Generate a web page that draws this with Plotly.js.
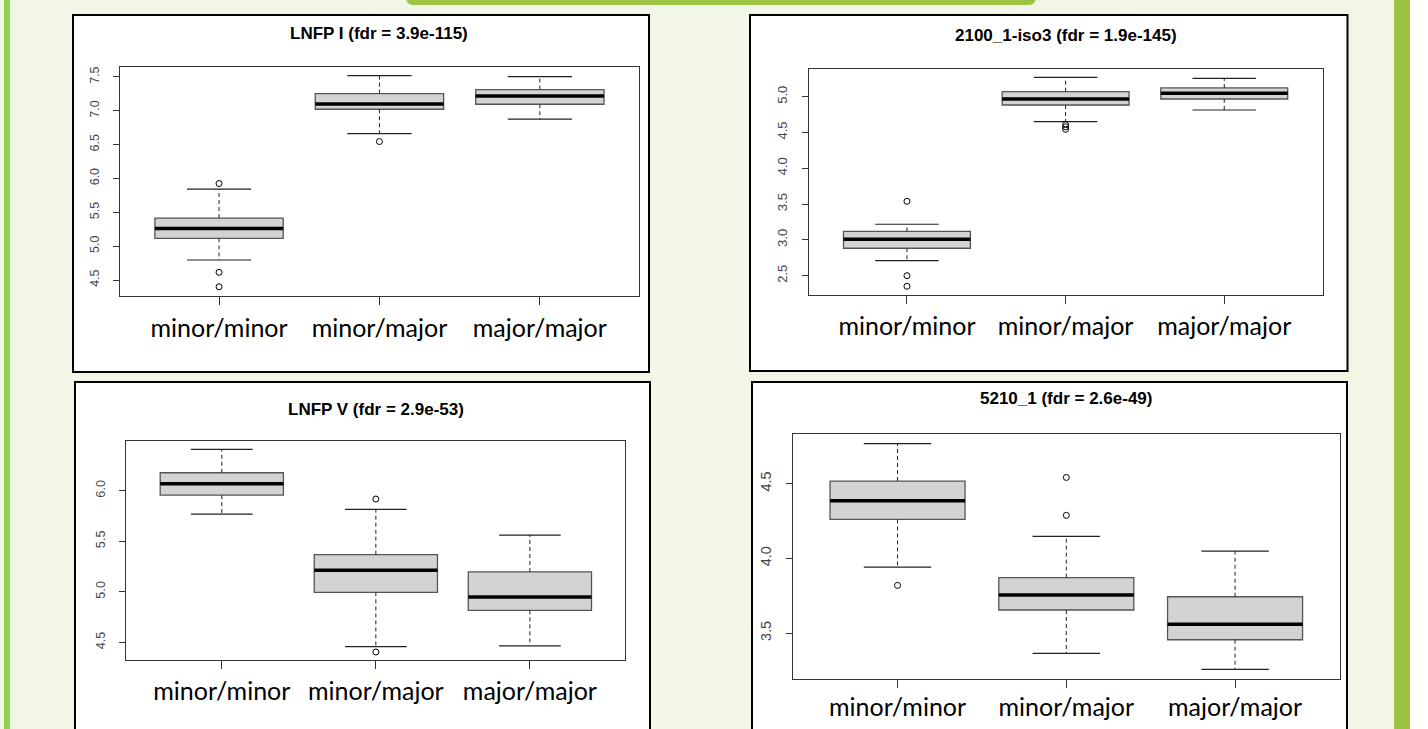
<!DOCTYPE html>
<html>
<head>
<meta charset="utf-8">
<script src="https://cdn.plot.ly/plotly-3.0.1.min.js"></script>
<style>
html,body{margin:0;padding:0;background:#f2f6e7;}
#chart{width:1428px;height:729px;}
</style>
</head>
<body>
<div id="chart"></div>
<script>
// ---------------- DATA ----------------
const categories = ['minor/minor', 'minor/major', 'major/major'];
const panelTitles = ['LNFP I (fdr = 3.9e-115)', '2100_1-iso3 (fdr = 1.9e-145)',
                     'LNFP V (fdr = 2.9e-53)', '5210_1 (fdr = 2.6e-49)'];
// per panel, per category
const q1Values     = [[5.115, 7.023, 7.097], [2.883, 4.884, 4.968], [5.957, 4.994, 4.816], [4.261, 3.654, 3.455]];
const medianValues = [[5.263, 7.102, 7.220], [3.008, 4.968, 5.047], [6.069, 5.212, 4.948], [4.386, 3.754, 3.558]];
const q3Values     = [[5.416, 7.254, 7.313], [3.120, 5.070, 5.122], [6.178, 5.367, 5.196], [4.518, 3.871, 3.743]];
const lowerWhisker = [[4.796, 6.664, 6.876], [2.710, 4.651, 4.814], [5.769, 4.457, 4.464], [3.942, 3.364, 3.257]];
const upperWhisker = [[5.843, 7.520, 7.505], [3.218, 5.271, 5.257], [6.409, 5.815, 5.561], [4.768, 4.147, 4.049]];
// outliers: category index (1-based) and value
const outlierCat   = [[1, 1, 1, 2], [1, 1, 1, 2, 2, 2], [2, 2], [1, 2, 2]];
const outlierVal   = [[5.926, 4.614, 4.400, 6.546], [3.539, 2.500, 2.352, 4.610, 4.580, 4.545], [5.918, 4.404], [3.819, 4.542, 4.288]];
const yRanges      = [[4.264, 7.652], [2.230, 5.391], [4.322, 6.495], [3.192, 4.831]];

// ---------------- LAYOUT GEOMETRY (pixels) ----------------
const W = 1428, H = 729;
const px = x => x / W;
const py = y => 1 - y / H;
const plotAreas = [ // [left, top, right, bottom]
  [119.6, 66.7, 639.3, 296.0],
  [808.6, 68.7, 1322.6, 295.0],
  [126.3, 440.7, 625.4, 660.3],
  [792.9, 434.3, 1339.7, 679.0]
];
const panelRects = [
  [73, 15, 649, 372],
  [750, 15, 1347.5, 371],
  [75, 382, 650, 760],
  [752, 382, 1347, 760]
];
const titleY = [33.5, 35, 409, 398.5];
const yTickSize = [12.5, 13, 12.7, 14.4];
const xLabelStandoff = [2, 1, 1, -2];

const BOXW = 0.8, CAPW = 0.4;
const traces = [];
const layout = {
  width: W, height: H,
  margin: {l: 0, r: 0, t: 0, b: 0},
  paper_bgcolor: '#f2f6e7',
  plot_bgcolor: '#ffffff',
  showlegend: false,
  shapes: [],
  annotations: []
};

// decorative background shapes
layout.shapes.push({type: 'rect', xref: 'paper', yref: 'paper', x0: px(4), x1: px(10), y0: py(H + 5), y1: py(-5),
  fillcolor: '#92d050', line: {width: 0}, layer: 'below'});
layout.shapes.push({type: 'rect', xref: 'paper', yref: 'paper', x0: px(1394), x1: px(1410), y0: py(H + 5), y1: py(-5),
  fillcolor: '#9cc343', line: {width: 0}, layer: 'below'});
layout.shapes.push({type: 'rect', xref: 'paper', yref: 'paper', x0: px(1410), x1: px(1430), y0: py(H + 5), y1: py(-5),
  fillcolor: '#ffffff', line: {width: 0}, layer: 'below'});
{
  const r = 8, x0 = 406, x1 = 1036, yb = 5;
  const path = `M ${px(x0)},${py(-2)} L ${px(x0)},${py(yb - r)} Q ${px(x0)},${py(yb)} ${px(x0 + r)},${py(yb)} ` +
               `L ${px(x1 - r)},${py(yb)} Q ${px(x1)},${py(yb)} ${px(x1)},${py(yb - r)} L ${px(x1)},${py(-2)} Z`;
  layout.shapes.push({type: 'path', xref: 'paper', yref: 'paper', path: path,
    fillcolor: '#9cc343', line: {width: 0}, layer: 'below'});
}

for (let p = 0; p < 4; p++) {
  const sfx = p === 0 ? '' : String(p + 1);
  const xa = 'x' + sfx, ya = 'y' + sfx;
  const [l, t, r, b] = plotAreas[p];
  const [bl, bt, br, bb] = panelRects[p];

  layout.shapes.push({type: 'rect', xref: 'paper', yref: 'paper',
    x0: px(bl), x1: px(br), y0: py(bb), y1: py(bt),
    fillcolor: '#ffffff', line: {color: '#000000', width: 2}, layer: 'below'});

  layout['xaxis' + sfx] = {
    domain: [px(l), px(r)], anchor: ya, range: [0.38, 3.62],
    tickmode: 'array', tickvals: [1, 2, 3], ticktext: categories,
    ticks: 'outside', ticklen: 8, tickcolor: '#333', tickwidth: 1,
    tickfont: {family: 'Lato, "Open Sans", sans-serif', size: 25, color: '#000'},
    ticklabelstandoff: xLabelStandoff[p],
    showline: true, mirror: true, linecolor: '#333', linewidth: 1,
    showgrid: false, zeroline: false, fixedrange: true
  };
  layout['yaxis' + sfx] = {
    domain: [py(b), py(t)], anchor: xa, range: yRanges[p],
    tick0: 0, dtick: 0.5, tickformat: '.1f', tickangle: -90,
    ticks: 'outside', ticklen: 6, tickcolor: '#333', tickwidth: 1,
    tickfont: {family: '"Liberation Sans", Arial, sans-serif', size: yTickSize[p], color: '#444'},
    ticklabelstandoff: 9,
    showline: true, mirror: true, linecolor: '#333', linewidth: 1,
    showgrid: false, zeroline: false, fixedrange: true
  };

  layout.annotations.push({xref: 'paper', yref: 'paper', x: px((l + r) / 2), y: py(titleY[p]),
    xanchor: 'center', yanchor: 'middle', showarrow: false,
    text: '<b>' + panelTitles[p] + '</b>',
    font: {family: '"Liberation Sans", Arial, sans-serif', size: 17, color: '#000'}});

  const xs = [1, 2, 3];
  // boxes
  traces.push({type: 'box', xaxis: xa, yaxis: ya, x: xs,
    q1: q1Values[p], median: medianValues[p], q3: q3Values[p],
    lowerfence: q1Values[p], upperfence: q3Values[p],
    width: BOXW, whiskerwidth: 0, boxpoints: false,
    fillcolor: '#d3d3d3', line: {color: '#555555', width: 1.3}, hoverinfo: 'skip'});

  // whiskers (dashed)
  const wx = [], wy = [];
  xs.forEach((c, i) => {
    wx.push(c, c, null, c, c, null);
    wy.push(q3Values[p][i], upperWhisker[p][i], null, q1Values[p][i], lowerWhisker[p][i], null);
  });
  traces.push({type: 'scatter', mode: 'lines', xaxis: xa, yaxis: ya, x: wx, y: wy,
    line: {color: '#222', width: 1, dash: '4px,3px'}, hoverinfo: 'skip'});

  // caps
  const cx = [], cy = [];
  xs.forEach((c, i) => {
    cx.push(c - CAPW / 2, c + CAPW / 2, null, c - CAPW / 2, c + CAPW / 2, null);
    cy.push(upperWhisker[p][i], upperWhisker[p][i], null, lowerWhisker[p][i], lowerWhisker[p][i], null);
  });
  traces.push({type: 'scatter', mode: 'lines', xaxis: xa, yaxis: ya, x: cx, y: cy,
    line: {color: '#222', width: 1.2}, hoverinfo: 'skip'});

  // medians
  const mx = [], my = [];
  xs.forEach((c, i) => {
    mx.push(c - BOXW / 2, c + BOXW / 2, null);
    my.push(medianValues[p][i], medianValues[p][i], null);
  });
  traces.push({type: 'scatter', mode: 'lines', xaxis: xa, yaxis: ya, x: mx, y: my,
    line: {color: '#000', width: 3.5}, hoverinfo: 'skip'});

  // outliers
  traces.push({type: 'scatter', mode: 'markers', xaxis: xa, yaxis: ya,
    x: outlierCat[p], y: outlierVal[p],
    marker: {symbol: 'circle-open', size: 6, color: '#000', line: {width: 1}}, hoverinfo: 'skip'});
}

Plotly.newPlot('chart', traces, layout, {staticPlot: true, displayModeBar: false});
</script>
</body>
</html>
